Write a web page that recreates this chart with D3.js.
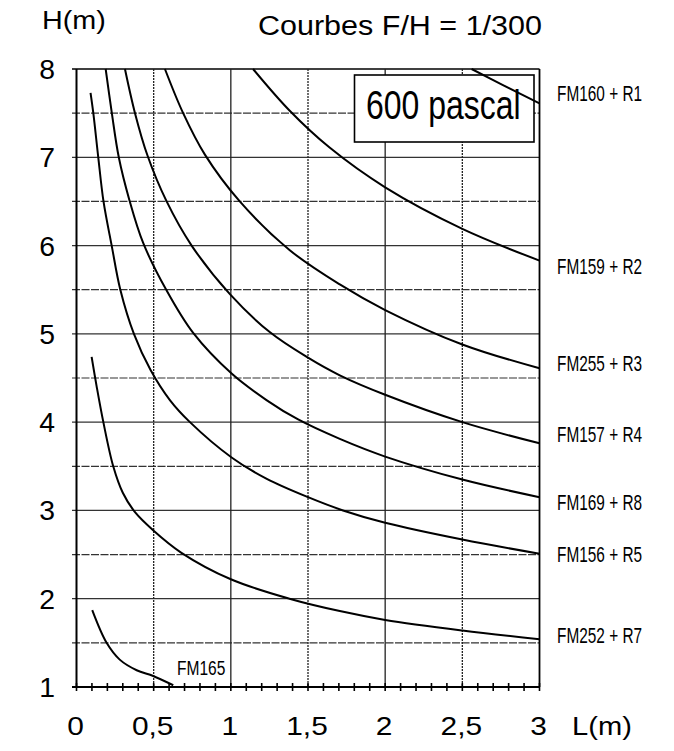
<!DOCTYPE html>
<html>
<head>
<meta charset="utf-8">
<script src="https://cdn.jsdelivr.net/npm/d3@7/dist/d3.min.js"></script>
<style>
  html, body { margin: 0; padding: 0; background: #fff; }
  svg { display: block; font-family: "Liberation Sans", Arial, sans-serif; }
</style>
</head>
<body>
<svg id="chart" width="674" height="751"></svg>
<script>
// ---- data (L in m, H in m) ----
const titleText = "Courbes F/H = 1/300";
const pressureText = "600 pascal";
const xTicks = [0, 0.5, 1, 1.5, 2, 2.5, 3];
const xTickLabels = ["0", "0,5", "1", "1,5", "2", "2,5", "3"];
const yTicks = [1, 2, 3, 4, 5, 6, 7, 8];
const yTickLabels = ["1", "2", "3", "4", "5", "6", "7", "8"];
const gridX = [0.5, 1, 1.5, 2, 2.5];
const gridY = [1.5, 2, 2.5, 3, 3.5, 4, 4.5, 5, 5.5, 6, 6.5, 7, 7.5, 8];

const FM160_R1 = [[2.56, 8.0], [2.76, 7.82], [3.0, 7.61]];
const FM159_R2 = [[1.144, 8.0], [1.38, 7.53], [1.64, 7.11], [2.0, 6.66], [2.5, 6.19], [3.0, 5.83]];
const FM255_R3 = [[0.573, 8.0], [0.691, 7.5], [0.832, 7.03], [1.058, 6.5], [1.38, 5.95], [1.706, 5.56], [2.0, 5.27], [2.5, 4.88], [3.0, 4.61]];
const FM157_R4 = [[0.314, 8.0], [0.379, 7.5], [0.46, 7.02], [0.584, 6.5], [0.746, 6.0], [0.994, 5.45], [1.252, 5.02], [1.5, 4.73], [1.706, 4.53], [2.0, 4.31], [2.5, 4.0], [3.0, 3.76]];
const FM169_R8 = [[0.189, 8.0], [0.229, 7.5], [0.274, 7.0], [0.342, 6.52], [0.432, 6.03], [0.584, 5.49], [0.756, 5.01], [1.005, 4.55], [1.231, 4.25], [1.436, 4.03], [1.706, 3.81], [2.0, 3.61], [2.5, 3.35], [3.0, 3.15]];
const FM156_R5 = [[0.091, 7.73], [0.109, 7.5], [0.141, 7.0], [0.175, 6.5], [0.228, 6.0], [0.284, 5.5], [0.372, 5.0], [0.48, 4.59], [0.605, 4.25], [0.735, 4.0], [1.005, 3.6], [1.23, 3.36], [1.5, 3.15], [1.727, 3.0], [2.0, 2.86], [2.5, 2.67], [3.0, 2.51]];
const FM252_R7 = [[0.098, 4.74], [0.131, 4.4], [0.174, 4.0], [0.238, 3.5], [0.3, 3.2], [0.379, 2.98], [0.5, 2.77], [0.68, 2.52], [1.0, 2.22], [1.38, 2.0], [1.706, 1.86], [2.0, 1.76], [2.5, 1.64], [3.0, 1.54]];
const FM165 = [[0.102, 1.87], [0.195, 1.5], [0.28, 1.31], [0.39, 1.19], [0.497, 1.125], [0.627, 1.02]];

const seriesData = [FM160_R1, FM159_R2, FM255_R3, FM157_R4, FM169_R8, FM156_R5, FM252_R7, FM165];
const rightLabels = ["FM160 + R1", "FM159 + R2", "FM255 + R3", "FM157 + R4", "FM169 + R8", "FM156 + R5", "FM252 + R7"];
const rightLabelY = [7.64, 5.68, 4.58, 3.77, 3.01, 2.42, 1.50]; // label baseline position in H units
const minorTicks = d3.range(0, 3.0001, 0.1);

// ---- drawing ----
const svg = d3.select("#chart");
const x = d3.scaleLinear().domain([0, 3]).range([76.5, 539.5]);
const y = d3.scaleLinear().domain([1, 8]).range([687, 69]);

function txt(px, py, s, size, sx, anchor) {
  svg.append("text")
    .attr("transform", `translate(${px},${py}) scale(${sx},1)`)
    .attr("font-size", size)
    .attr("text-anchor", anchor || "start")
    .attr("fill", "#000")
    .text(s);
}

// grid
svg.append("g").selectAll("line").data(gridY).join("line")
  .attr("x1", x(0) - 4.5).attr("x2", x(3))
  .attr("y1", d => y(d)).attr("y2", d => y(d))
  .attr("stroke", d => d === 8 ? "#000" : "#333")
  .attr("stroke-width", d => d === 8 ? 1.6 : 1.2)
  .attr("stroke-dasharray", d => (d % 1 === 0) ? null : "8,1.5");

svg.append("g").selectAll("line").data(gridX).join("line")
  .attr("x1", d => x(d)).attr("x2", d => x(d))
  .attr("y1", y(8)).attr("y2", y(1))
  .attr("stroke", "#222")
  .attr("stroke-width", 1.3)
  .attr("stroke-dasharray", d => (d % 1 === 0) ? null : "2,1");

// right border
svg.append("line")
  .attr("x1", x(3)).attr("x2", x(3)).attr("y1", y(8)).attr("y2", y(1))
  .attr("stroke", "#000").attr("stroke-width", 1.8);

// axes
svg.append("line")
  .attr("x1", x(0)).attr("x2", x(0)).attr("y1", y(8)).attr("y2", y(1))
  .attr("stroke", "#000").attr("stroke-width", 2);
svg.append("line")
  .attr("x1", x(0) - 4.5).attr("x2", x(3)).attr("y1", y(1)).attr("y2", y(1))
  .attr("stroke", "#000").attr("stroke-width", 2);
svg.append("g").selectAll("line").data(minorTicks).join("line")
  .attr("x1", d => x(d)).attr("x2", d => x(d))
  .attr("y1", y(1) - 4).attr("y2", y(1) + 4)
  .attr("stroke", "#000").attr("stroke-width", 1.6);

// pressure box
svg.append("rect")
  .attr("x", 354.5).attr("y", 75).attr("width", 179.5).attr("height", 67)
  .attr("fill", "#fff").attr("stroke", "#000").attr("stroke-width", 1.6);
txt(366, 119, pressureText, 41, 0.78, "start");

// curves
const line = d3.line().x(d => x(d[0])).y(d => y(d[1])).curve(d3.curveCatmullRom.alpha(0.5));
svg.append("g").selectAll("path").data(seriesData).join("path")
  .attr("d", line)
  .attr("fill", "none")
  .attr("stroke", "#000")
  .attr("stroke-width", 2);

// tick labels
yTicks.forEach((v, i) => txt(47, y(v) + 10, yTickLabels[i], 27, 1.05, "middle"));
xTicks.forEach((v, i) => txt(x(v) - 1, 735, xTickLabels[i], 26, 1.15, "middle"));

// axis titles and title
txt(42, 29, "H(m)", 25, 1.15, "start");
txt(258, 35, titleText, 27, 1.13, "start");
txt(572, 735, "L(m)", 26, 1.12, "start");

// series labels
rightLabels.forEach((s, i) => txt(557, y(rightLabelY[i]), s, 22, 0.7, "start"));
txt(177, 675, "FM165", 21, 0.74, "start");
</script>
</body>
</html>
